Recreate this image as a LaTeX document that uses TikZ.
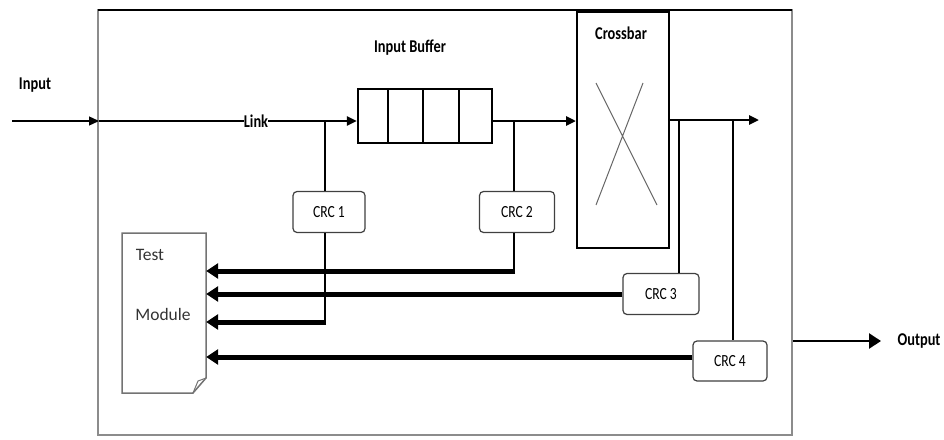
\documentclass[tikz,border=0pt]{standalone}
\usepackage{fontspec}
\setmainfont{Carlito}
\newfontfamily\condfont[FakeStretch=0.8]{Carlito}
\usetikzlibrary{arrows.meta}
\begin{document}
\begin{tikzpicture}[x=1pt,y=-1pt,
  lbl/.style={font=\condfont\bfseries\fontsize{18}{19}\selectfont, inner sep=0pt},
  crc/.style={draw=black!75, line width=1.2pt, rounded corners=4pt, fill=white,
              font=\condfont\fontsize{17}{18}\selectfont, inner sep=0pt},
  thinline/.style={line width=1.3pt},
  medline/.style={line width=2.6pt},
  thickline/.style={line width=5pt},
  tipA/.style={-{Triangle[length=10pt,width=9pt]}},
  tipB/.style={-{Triangle[length=12pt,width=15pt]}}]
\useasboundingbox (0,0) rectangle (944,439);
% frame
\draw[black!45, line width=1.6pt] (98,10) rectangle (792,435);
\draw[black, line width=1.2pt] (98,10) -- (792,10);
% labels
\node[lbl] (inlbl) at (35,85) {Input};
\node[lbl] (link) at (256,121) {Link};
\node[lbl] (buflbl) at (410,48) {Input Buffer};
\node[lbl] (outlbl) at (919,341) {Output};
% buffer
\node[draw, line width=2.2pt, minimum width=134pt, minimum height=54pt, inner sep=0pt] (buf) at (425,116) {};
\draw[line width=2pt] (388,89) -- (388,143) (423,89) -- (423,143) (459,89) -- (459,143);
% crossbar
\node[draw, line width=2pt, minimum width=92pt, minimum height=236pt, inner sep=0pt] (xbar) at (623,130) {};
\node[lbl] (xlbl) at (621,33) {Crossbar};
\draw[black!60, line width=1pt] (596,83) -- (657,205) (643,83) -- (596,205);
% CRC boxes
\node[crc, minimum width=72pt, minimum height=41pt] (crc1) at (329,212) {CRC 1};
\node[crc, minimum width=75pt, minimum height=41pt] (crc2) at (517,212) {CRC 2};
\node[crc, minimum width=76pt, minimum height=41pt] (crc3) at (661,294) {CRC 3};
\node[crc, minimum width=74pt, minimum height=40pt] (crc4) at (730,361) {CRC 4};
% test module
\node[inner sep=0pt, minimum width=84pt, minimum height=160pt] (tm) at (164,313) {};
\draw[black!55, line width=1.5pt] (122,233) -- (206,233) -- (206,378) -- (193,393) -- (122,393) -- cycle;
\draw[black!55, line width=1pt] (206,378) -- (198,381) -- (193,393);
\node[font=\fontsize{17.5}{18}\selectfont, text=black!80, inner sep=0pt] (tmt) at (150,255) {Test};
\node[font=\fontsize{17.5}{18}\selectfont, text=black!80, inner sep=0pt] (tmm) at (163,314) {Module};
% coordinates
\coordinate (inS) at (12,121);
\coordinate (inE) at (99,121);
\coordinate (j1) at (325,121);
\coordinate (j2) at (514,121);
\coordinate (j3) at (679,120);
\coordinate (j4) at (733,120);
\coordinate (oE) at (759,120);
\coordinate (oS) at (793,341);
\coordinate (oT) at (881,341);
% input
\draw[thinline, tipA] (inS) -- (inE);
\draw[thinline] (inE) -- (link.west);
\draw[medline, tipA] (link.east) -- (buf.west |- link.east);
\draw[medline, tipA] (buf.east |- j2) -- (xbar.west |- j2);
\draw[medline, tipA] (xbar.east |- oE) -- (oE);
% CRC taps
\draw[medline] (j1) -- (j1 |- crc1.north);
\draw[medline] (j2) -- (j2 |- crc2.north);
\draw[medline] (j3) -- (j3 |- crc3.north);
\draw[medline] (j4) -- (j4 |- crc4.north);
% to test module
\draw[medline] (crc2.south -| j2) -- (514,273);
\draw[thickline, tipB] (515,271) -- (tm.east |- 0,271);
\draw[thickline, tipB] (crc3.west) -- (tm.east |- crc3.west);
\draw[medline] (crc1.south -| j1) -- (325,324);
\draw[thickline, tipB] (326,322) -- (tm.east |- 0,322);
\draw[thickline, tipB] (crc4.west |- 0,357) -- (tm.east |- 0,357);
% output
\draw[medline, tipB] (oS) -- (oT);
\end{tikzpicture}
\end{document}
